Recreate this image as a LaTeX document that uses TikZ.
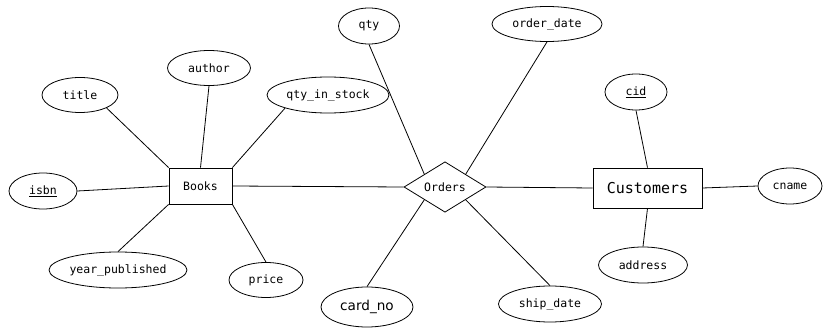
\documentclass[tikz,border=0pt]{standalone}
\usepackage{fontspec}
\setmonofont{DejaVu Sans Mono}
\newfontfamily\labelsans{DejaVu Sans}
\usetikzlibrary{shapes.geometric,calc}
\begin{document}
\begin{tikzpicture}[x=1pt,y=-1pt,
  attr/.style={draw, ellipse, inner sep=0pt, line width=0.8pt,
    font=\ttfamily\fontsize{11.5}{13}\selectfont},
  entity/.style={draw, rectangle, inner sep=0pt, line width=0.8pt,
    font=\ttfamily\fontsize{11.5}{13}\selectfont},
  rel/.style={draw, diamond, inner sep=0pt, line width=0.8pt,
    font=\ttfamily\fontsize{11.5}{13}\selectfont},
  link/.style={line width=0.8pt}]
\useasboundingbox (0,0) rectangle (823,329);

% entities and relationship
\node[entity, minimum width=63pt, minimum height=36pt] (books) at (200.5,186) {Books};
\node[entity, minimum width=109pt, minimum height=40pt,
  font=\ttfamily\fontsize{15}{17}\selectfont] (cust) at (647.5,188) {Customers};
\node[rel, minimum width=82pt, minimum height=49pt] (ord) at (445,187) {Orders};

% attributes of Books
\node[attr, minimum width=76pt, minimum height=35pt] (title) at (80,95) {title};
\node[attr, minimum width=83pt, minimum height=35pt] (author) at (209,68) {author};
\node[attr, minimum width=122pt, minimum height=36pt] (stock) at (328,95) {qty\_in\_stock};
\node[attr, minimum width=68pt, minimum height=36pt] (isbn) at (43,191) {\underline{isbn}};
\node[attr, minimum width=138pt, minimum height=36pt] (year) at (118,270) {year\_published};
\node[attr, minimum width=74pt, minimum height=35pt] (price) at (266,280) {price};

% attributes of Orders
\node[attr, minimum width=61pt, minimum height=36pt] (qty) at (369,26) {qty};
\node[attr, minimum width=110pt, minimum height=35pt] (odate) at (547,24) {order\_date};
\node[attr, minimum width=92pt, minimum height=40pt,
  font=\labelsans\fontsize{13.6}{15}\selectfont] (card) at (367,307) {card\_no};
\node[attr, minimum width=103pt, minimum height=36pt] (sdate) at (550,304) {ship\_date};

% attributes of Customers
\node[attr, minimum width=62pt, minimum height=36pt] (cid) at (636,92) {\underline{cid}};
\node[attr, minimum width=89pt, minimum height=36pt] (addr) at (643,265) {address};
\node[attr, minimum width=64pt, minimum height=36pt] (cname) at (790,186) {cname};

% connectors
\draw[link] (title.-26) -- (books.north west);
\draw[link] (author.south) -- (books.north);
\draw[link] (stock.-163) -- (books.north east);
\draw[link] (isbn.east) -- (books.west);
\draw[link] (year.north) -- (books.south west);
\draw[link] (price.north) -- (books.south east);
\draw[link] (books.east) -- (ord.west);
\draw[link] (qty.south) -- ($(ord.west)!0.5!(ord.north)$);
\draw[link] (odate.south) -- ($(ord.east)!0.5!(ord.north)$);
\draw[link] (card.north) -- ($(ord.west)!0.5!(ord.south)$);
\draw[link] (sdate.north) -- ($(ord.east)!0.5!(ord.south)$);
\draw[link] (ord.east) -- (cust.west);
\draw[link] (cid.south) -- (cust.north);
\draw[link] (addr.north) -- (cust.south);
\draw[link] (cust.east) -- (cname.west);
\end{tikzpicture}
\end{document}
